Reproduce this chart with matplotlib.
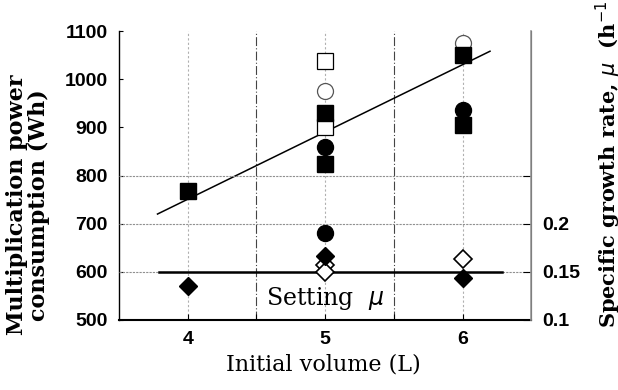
import numpy as np
import matplotlib.pyplot as plt

# power consumption (Wh), left axis
sq_filled_x = [4, 5, 5, 6, 6]
sq_filled_y = [768, 930, 824, 1050, 905]
sq_open_x = [5, 5]
sq_open_y = [1038, 900]
circ_filled_x = [5, 5, 6]
circ_filled_y = [859, 681, 935]
circ_open_x = [5, 6]
circ_open_y = [976, 1075]

# specific growth rate (1/h), right axis
dia_filled_x = [4, 5, 6]
dia_filled_mu = [0.1355, 0.166, 0.144]
dia_open_x = [5, 5, 6]
dia_open_mu = [0.1575, 0.150, 0.1635]

trend_x = [3.78, 6.2]
trend_y = [720, 1058]
setting_mu = 0.15
setting_x = [3.79, 6.29]

serif = 'DejaVu Serif'
sans = 'Liberation Sans'

fig = plt.figure(figsize=(6.18, 3.9), dpi=100)
ax = fig.add_axes([0.1926, 0.1795, 0.667, 0.741])
ax2 = ax.twinx()

ax.set_xlim(3.5, 6.5)
ax.set_ylim(500, 1100)
ax2.set_ylim(0.1, 0.4)

# grid
for x in [4, 5, 6]:
    ax.axvline(x, color='#b0b0b0', lw=0.8, ls=(0, (2, 2)), zorder=0)
for x in [4.5, 5.5]:
    ax.axvline(x, color='#444444', lw=0.8, ls=(0, (8, 2, 1, 2)), zorder=0)
for m in [0.15, 0.2, 0.25]:
    ax2.axhline(m, color='#909090', lw=0.8, ls=(0, (2, 1)), zorder=0)

ax.plot(trend_x, trend_y, color='black', lw=1.1, zorder=1)
ax2.plot(setting_x, [setting_mu, setting_mu], color='black', lw=1.8, zorder=1)

ms = 11.5
ax.plot(sq_open_x, sq_open_y, 's', ms=ms, mfc='white', mec='black', mew=0.9, ls='none', zorder=2)
ax.plot(circ_open_x, circ_open_y, 'o', ms=ms, mfc='white', mec='#555555', mew=0.9, ls='none', zorder=2)
ax.plot(sq_filled_x, sq_filled_y, 's', ms=ms, color='black', ls='none', zorder=3)
ax.plot(circ_filled_x, circ_filled_y, 'o', ms=ms, color='black', ls='none', zorder=3)
ax2.plot(dia_open_x, dia_open_mu, 'D', ms=9, mfc='white', mec='black', mew=1.2, ls='none', zorder=2)
ax2.plot(dia_filled_x, dia_filled_mu, 'D', ms=9, color='black', ls='none', zorder=3)

ax2.text(5, 0.1225, 'Setting  $\\mu$', ha='center', va='center', fontsize=17, family=serif)

# ticks
ax.set_xticks([4, 4.5, 5, 5.5, 6])
ax.set_xticklabels(['4', '', '5', '', '6'])
ax.set_yticks(range(500, 1101, 100))
ax.tick_params(axis='y', direction='in', length=3, pad=8)
ax.tick_params(axis='x', direction='in', length=4, pad=8)
ax2.set_yticks([0.1, 0.15, 0.2, 0.25])
ax2.set_yticklabels(['0.1', '0.15', '0.2', ''])
ax2.tick_params(axis='y', direction='in', length=6, pad=8, color='black')
for lab in ax.get_xticklabels() + ax.get_yticklabels() + ax2.get_yticklabels():
    lab.set_family(sans)
    lab.set_fontweight('bold')
    lab.set_fontsize(14)

for a in (ax, ax2):
    a.spines['top'].set_visible(False)
ax.spines['bottom'].set_linewidth(1.5)
ax.spines['left'].set_linewidth(1.0)
ax2.spines['right'].set_color('#999999')
ax2.spines['right'].set_linewidth(1.2)
ax2.spines['left'].set_visible(False)
ax2.spines['bottom'].set_visible(False)

fig.text(0.045, 0.474, 'Multiplication power\nconsumption (Wh)', rotation=90, ha='center', va='center',
         fontsize=16, family=serif, fontweight='bold', linespacing=1.0)
fig.text(0.984, 0.16, 'Specific growth rate, $\\mu$  (h$^{-1}$)', rotation=90, ha='center', va='bottom',
         fontsize=15, family=serif, fontweight='bold')
fig.text(0.524, 0.065, 'Initial volume (L)', ha='center', va='center', fontsize=16, family=serif)

fig.savefig('out.png', dpi=100)
